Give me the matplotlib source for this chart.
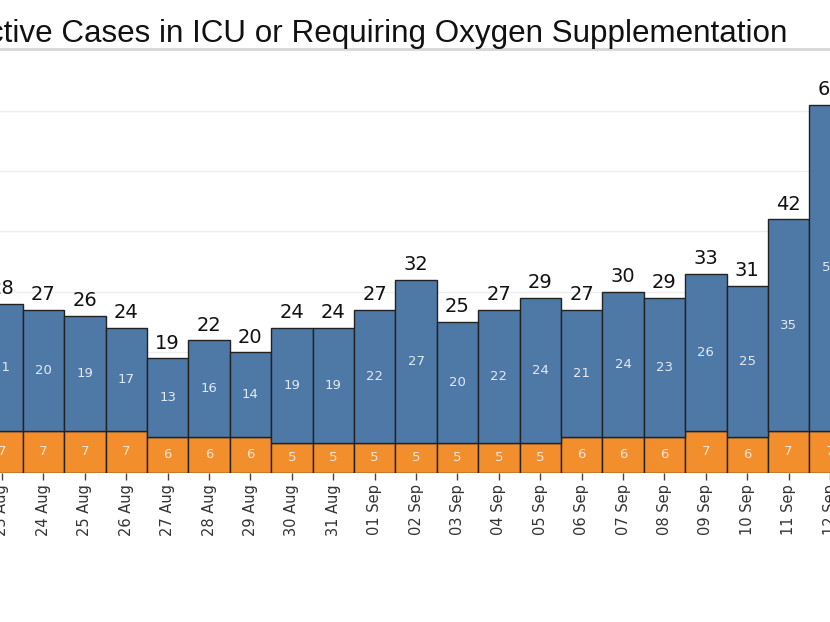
import numpy as np
import matplotlib.pyplot as plt
from matplotlib.lines import Line2D

dates = ["23 Aug", "24 Aug", "25 Aug", "26 Aug", "27 Aug", "28 Aug", "29 Aug",
         "30 Aug", "31 Aug", "01 Sep", "02 Sep", "03 Sep", "04 Sep", "05 Sep",
         "06 Sep", "07 Sep", "08 Sep", "09 Sep", "10 Sep", "11 Sep", "12 Sep"]
oxygen = [21, 20, 19, 17, 13, 16, 14, 19, 19, 22, 27, 20, 22, 24, 21, 24, 23, 26, 25, 35, 54]
icu = [7, 7, 7, 7, 6, 6, 6, 5, 5, 5, 5, 5, 5, 5, 6, 6, 6, 7, 6, 7, 7]

W, H = 830, 622
fig = plt.figure(figsize=(W / 100, H / 100), dpi=100)

# axes cover the whole width, the chart is cut at both sides
y0_px, ytop_px = 473, 50
ax = fig.add_axes([0, 1 - y0_px / H, 1, (y0_px - ytop_px) / H])
step = 41.4
x0 = 2
ax.set_xlim((0 - x0) / step, (W - x0) / step)
ax.set_ylim(0, (y0_px - ytop_px) / 6.04)

x = np.arange(len(dates))
tot = np.array(oxygen) + np.array(icu)

ax.bar(x, icu, width=1.0, color='#f28e2b', edgecolor='#222222', linewidth=1, zorder=3)
ax.bar(x, oxygen, bottom=icu, width=1.0, color='#4e79a7', edgecolor='#222222', linewidth=1, zorder=3)

for i in range(len(x)):
    ax.text(x[i], icu[i] / 2, str(icu[i]), ha='center', va='center',
            fontsize=9.5, color='#f3e6d8', zorder=4)
    ax.text(x[i], icu[i] + oxygen[i] / 2, str(oxygen[i]), ha='center', va='center',
            fontsize=9.5, color='#e3e9f0', zorder=4)
    ax.annotate(str(tot[i]), (x[i], tot[i]), xytext=(0, 4), textcoords='offset points',
                ha='center', va='bottom', fontsize=14, color='#111111', zorder=4,
                annotation_clip=False)

ax.set_yticks(np.arange(10, 70, 10))
ax.yaxis.grid(True, color='#eeeeee', linewidth=1, zorder=0)
ax.set_axisbelow(True)
ax.tick_params(axis='y', left=False, labelleft=False)
ax.set_xticks(x)
ax.set_xticklabels(dates, rotation=90, fontsize=10.5, color='#333333')
ax.tick_params(axis='x', length=5, width=1, color='#444444', pad=3)
for s in ['left', 'right', 'top', 'bottom']:
    ax.spines[s].set_visible(False)

# title and the grey rule under it
fig.text(787 / W, 1 - 34 / H, "Active Cases in ICU or Requiring Oxygen Supplementation",
         ha='right', va='center', fontsize=22.6, family='Liberation Sans', color='#111111')
fig.add_artist(Line2D([0, 1], [1 - 49 / H, 1 - 49 / H], color='#d6d6d6', linewidth=2))

fig.savefig('out.png', dpi=100)
